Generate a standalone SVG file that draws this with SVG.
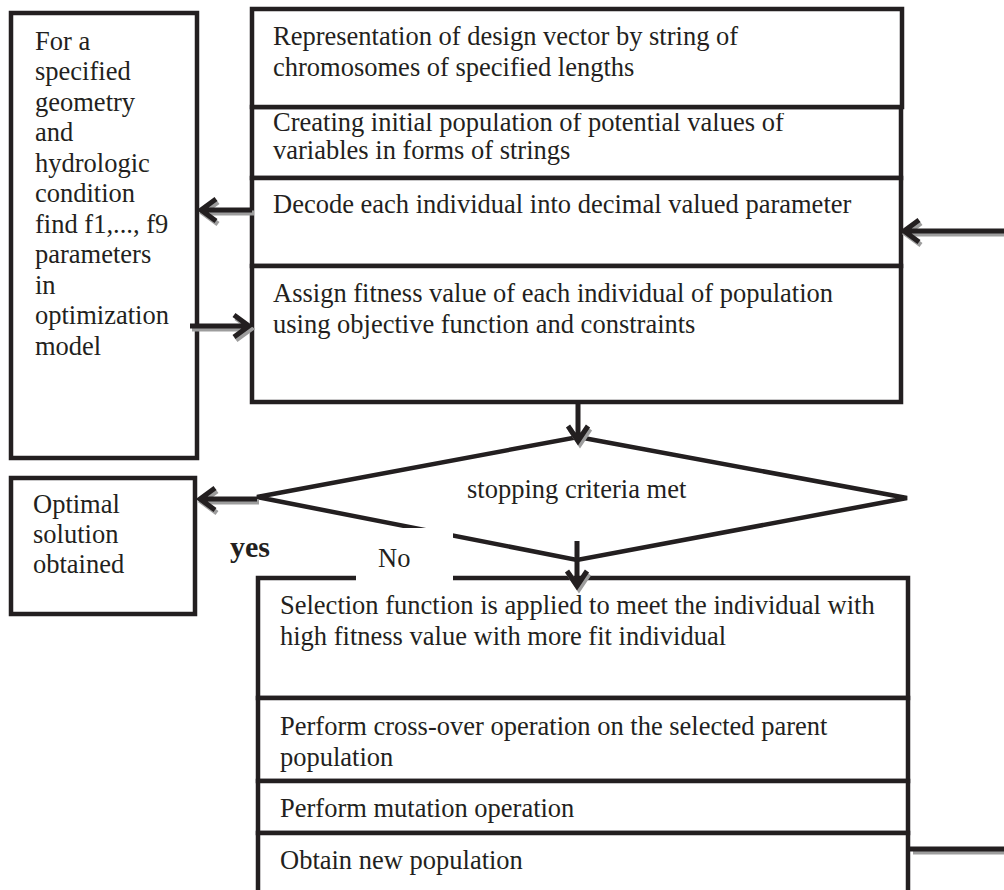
<svg xmlns="http://www.w3.org/2000/svg" width="1004" height="890" viewBox="0 0 1004 890">
<style>
.box{fill:#fff;stroke:#231f20;stroke-width:4.5}
.t{font-family:"Liberation Serif","Times New Roman",serif;font-size:26.5px;fill:#231f20}
.b{font-weight:bold;font-size:30px}
.ln{fill:none;stroke:#231f20;stroke-width:5}
.sh{fill:none;stroke:#9d9d9d;stroke-width:5}
</style>
<defs>
<clipPath id="clipCreate"><rect x="252" y="113" width="650" height="65"/></clipPath>
</defs>
<rect width="1004" height="890" fill="#fff"/>

<g id="nodes-top">
<g id="n-create"><rect class="box" x="252" y="107" width="649" height="71"/>
<g clip-path="url(#clipCreate)"><text class="t" x="273" y="131">Creating initial population of potential values of</text></g>
<text class="t" x="273" y="159">variables in forms of strings</text></g>
<g id="n-repr"><rect class="box" x="252" y="9" width="650" height="98"/>
<text class="t" x="273" y="45">Representation of design vector by string of</text>
<text class="t" x="273" y="76">chromosomes of specified lengths</text></g>
<g id="n-decode"><rect class="box" x="252" y="178" width="649" height="88"/>
<text class="t" x="273" y="213">Decode each individual into decimal valued parameter</text></g>
<g id="n-assign"><rect class="box" x="252" y="266" width="649" height="136"/>
<text class="t" x="273" y="302">Assign fitness value of each individual of population</text>
<text class="t" x="273" y="333">using objective function and constraints</text></g>
</g>

<g id="n-left"><rect class="box" x="11" y="13" width="186" height="445"/>
<text class="t" x="35" y="50">For a</text>
<text class="t" x="35" y="80">specified</text>
<text class="t" x="35" y="111">geometry</text>
<text class="t" x="35" y="141">and</text>
<text class="t" x="35" y="172">hydrologic</text>
<text class="t" x="35" y="202">condition</text>
<text class="t" x="35" y="233">find f1,..., f9</text>
<text class="t" x="35" y="263">parameters</text>
<text class="t" x="35" y="294">in</text>
<text class="t" x="35" y="324">optimization</text>
<text class="t" x="35" y="355">model</text></g>

<g id="n-optimal"><rect class="box" x="11" y="478" width="184" height="136"/>
<text class="t" x="33" y="513">Optimal</text>
<text class="t" x="33" y="543">solution</text>
<text class="t" x="33" y="573">obtained</text></g>

<g id="n-decision"><polygon points="578,437 907,498 577,560 257,497" fill="#fff" stroke="#231f20" stroke-width="4.5" stroke-linejoin="miter"/>
<text class="t" x="467" y="498">stopping criteria met</text></g>

<g id="nodes-bottom">
<g id="n-select"><rect class="box" x="258" y="578" width="650" height="120"/>
<text class="t" x="280" y="614">Selection function is applied to meet the individual with</text>
<text class="t" x="280" y="645">high fitness value with more fit individual</text></g>
<g id="n-cross"><rect class="box" x="258" y="698" width="650" height="83"/>
<text class="t" x="280" y="735">Perform cross-over operation on the selected parent</text>
<text class="t" x="280" y="766">population</text></g>
<g id="n-mutate"><rect class="box" x="258" y="781" width="650" height="52"/>
<text class="t" x="280" y="817">Perform mutation operation</text></g>
<g id="n-new"><rect class="box" x="258" y="833" width="650" height="80"/>
<text class="t" x="280" y="869">Obtain new population</text></g>
</g>

<g id="connectors">
<g transform="translate(2,3)">
<path class="sh" d="M252,210H201M216,199L201,210L216,221"/>
<path class="sh" d="M190,326H249M234,315L249,326L234,337"/>
<path class="sh" d="M257,499H200M215,488L200,499L215,510"/>
<path class="sh" d="M1004,231H904M919,220L904,231L919,242"/>
<path class="sh" d="M911,849H1004"/>
<path class="sh" d="M568,426L578,441L588,426"/>
<path class="sh" d="M567,571L577,586L587,571"/>
</g>
<path class="ln" d="M252,210H201M216,199L201,210L216,221"/>
<path class="ln" d="M190,326H249M234,315L249,326L234,337"/>
<path class="ln" d="M578,403V441M568,426L578,441L588,426"/>
<path class="ln" d="M577,541V586M567,571L577,586L587,571"/>
<path class="ln" d="M257,499H200M215,488L200,499L215,510"/>
<path class="ln" d="M1004,231H904M919,220L904,231L919,242"/>
<path class="ln" d="M908,849H1004" stroke-width="6"/>
</g>

<g id="labels">
<rect x="356" y="528" width="97" height="53" fill="#fff"/>
<text class="t" x="378" y="567">No</text>
<text class="t b" x="230" y="557">yes</text>
</g>
</svg>
